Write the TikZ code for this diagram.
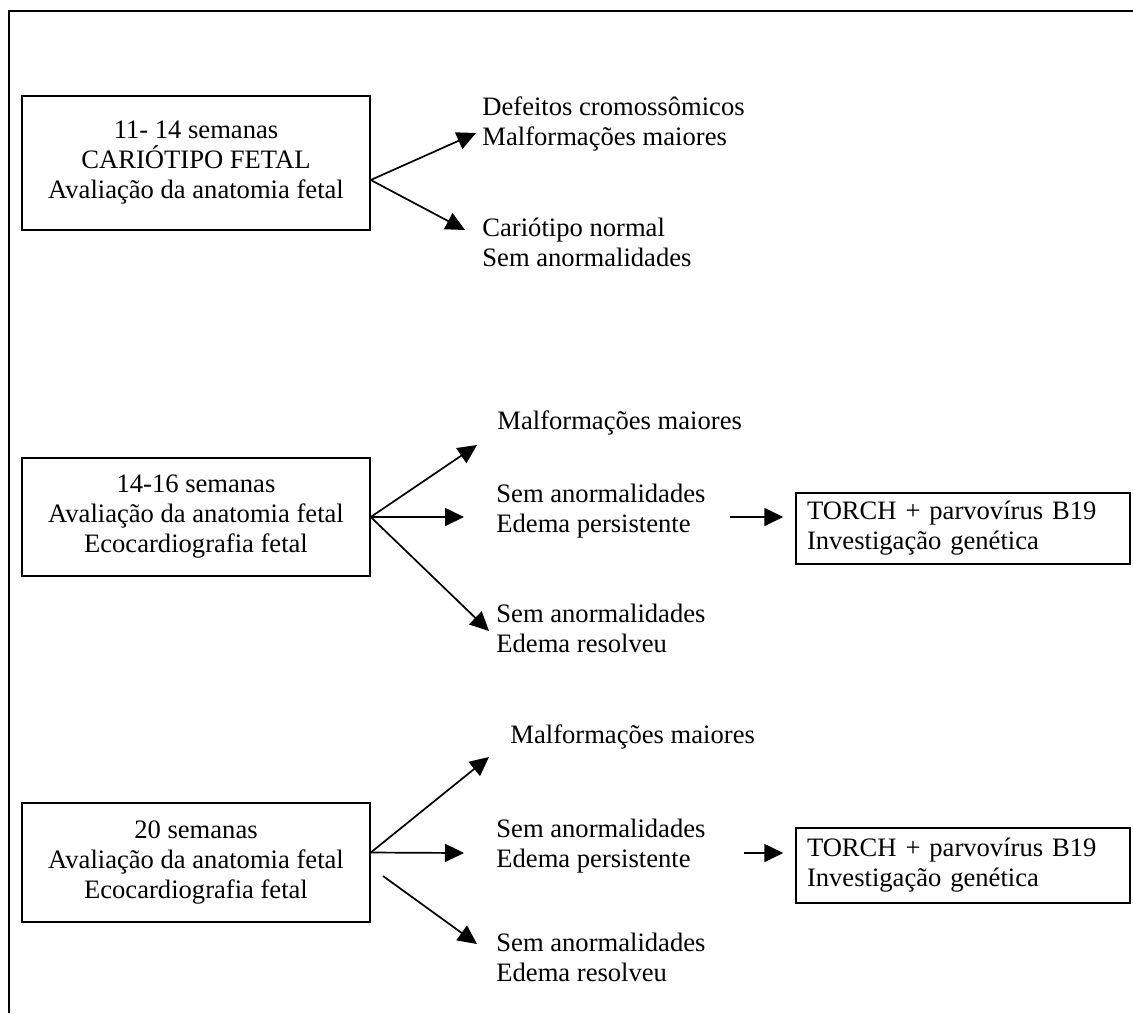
\documentclass[tikz,border=0pt]{standalone}
\usepackage{fontspec}
\setmainfont{Liberation Serif}
\usetikzlibrary{arrows.meta,calc}

\begin{document}
\begin{tikzpicture}[x=0.5pt,y=-0.5pt,
  every node/.style={font=\fontsize{13.3}{15}\selectfont},
  etapa/.style={draw,line width=0.75pt,minimum width=174pt,align=center,inner sep=0pt},
  exame/.style={draw,line width=0.75pt,minimum width=167pt,text width=156pt,align=left,inner xsep=5.5pt,inner ysep=0pt},
  achado/.style={anchor=west,align=left,inner sep=0pt},
  seta/.style={line width=0.85pt,-{Triangle[length=9.5pt,width=9pt]}}]
\useasboundingbox (0,0) rectangle (1133,1013);
% moldura
\draw[line width=1.3pt] (9,1013) -- (9,11) -- (1133,11);

% 11-14 semanas
\node[etapa,minimum height=67pt] (box1) at (196,163) {11- 14 semanas\\CARIÓTIPO FETAL\\Avaliação da anatomia fetal};
\node[achado] (res1a) at (482,124) {Defeitos cromossômicos\\Malformações maiores};
\node[achado] (res1b) at (482,242) {Cariótipo normal\\Sem anormalidades};
\coordinate (o1) at ($(box1.east)+(0,17)$);
\coordinate (t1a) at (476,133);
\coordinate (t1b) at (465,230);
\draw[seta] (o1) -- (t1a);
\draw[seta] (o1) -- (t1b);

% 14-16 semanas
\node[etapa,minimum height=59pt] (box2) at (196,517) {14-16 semanas\\Avaliação da anatomia fetal\\Ecocardiografia fetal};
\node[achado] (res2a) at (497,423) {Malformações maiores};
\node[achado] (res2b) at (496,511) {Sem anormalidades\\Edema persistente};
\node[achado] (res2c) at (496,628) {Sem anormalidades\\Edema resolveu};
\node[exame,minimum height=35.5pt] (torch2) at (963,528.5) {TORCH + parvovírus B19\\Investigação genética};
\coordinate (o2) at (box2.east);
\coordinate (t2a) at (477,445);
\coordinate (t2b) at (464,517);
\coordinate (t2c) at (489,631);
\draw[seta] (o2) -- (t2a);
\draw[seta] (o2) -- (t2b);
\draw[seta] (o2) -- (t2c);
\coordinate (s2) at (730,517);
\draw[seta,shorten >=6pt] (s2) -- (torch2.west |- s2);

% 20 semanas
\node[etapa,minimum height=59.5pt] (box3) at (196,862.5) {20 semanas\\Avaliação da anatomia fetal\\Ecocardiografia fetal};
\node[achado] (res3a) at (510,737) {Malformações maiores};
\node[achado] (res3b) at (496,846) {Sem anormalidades\\Edema persistente};
\node[achado] (res3c) at (496,957) {Sem anormalidades\\Edema resolveu};
\node[exame,minimum height=37.5pt] (torch3) at (963,865.5) {TORCH + parvovírus B19\\Investigação genética};
\coordinate (o3) at ($(box3.east)+(0,-10)$);
\coordinate (t3a) at (489,757);
\coordinate (t3b) at (464,853);
\coordinate (o3c) at (383,876);
\coordinate (t3c) at (477,944);
\draw[seta] (o3) -- (t3a);
\draw[seta] (o3) -- (t3b);
\draw[seta] (o3c) -- (t3c);
\coordinate (s3) at (744,853);
\draw[seta,shorten >=6pt] (s3) -- (torch3.west |- s3);
\end{tikzpicture}
\end{document}
